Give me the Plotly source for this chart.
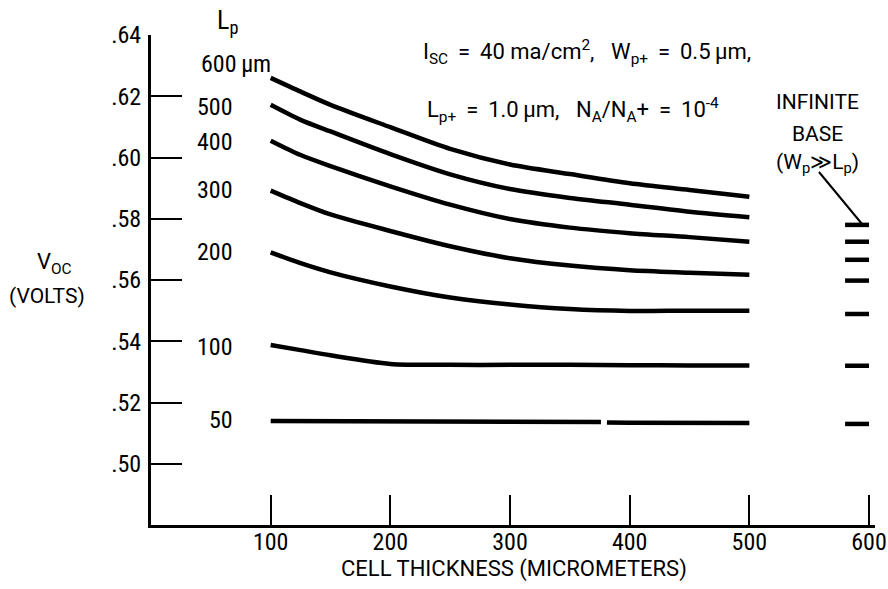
import plotly.graph_objects as go

# ---------------- data ----------------
thickness = [100, 125, 150, 200, 250, 300, 350, 400, 450, 500]
lp_labels = ["600\u2009\u00b5m", "500", "400", "300", "200", "100", "50"]
voc_600 = [0.6260, 0.6215, 0.6172, 0.6099, 0.6028, 0.5977, 0.5946, 0.5916, 0.5894, 0.5872]
voc_500 = [0.6172, 0.6123, 0.6085, 0.6011, 0.5945, 0.5897, 0.5868, 0.5846, 0.5823, 0.5805]
voc_400 = [0.6055, 0.6008, 0.5972, 0.5906, 0.5846, 0.5799, 0.5771, 0.5753, 0.5740, 0.5725]
voc_300 = [0.5892, 0.5851, 0.5814, 0.5760, 0.5710, 0.5671, 0.5647, 0.5632, 0.5624, 0.5617]
voc_200 = [0.5690, 0.5655, 0.5625, 0.5579, 0.5543, 0.5520, 0.5505, 0.5499, 0.5500, 0.5500]
voc_100 = [0.5388, 0.5371, 0.5354, 0.5326, 0.5323, 0.5323, 0.5323, 0.5322, 0.5321, 0.5321]
thickness_50 = [100, 200, 300, 376, 378, 381, 400, 500]
voc_50 = [0.5140, 0.5139, 0.5137, 0.5136, None, 0.5135, 0.5134, 0.5133]
# infinite-base values (Wp >> Lp), same Lp order 600..50
infinite_base = [0.5780, 0.5725, 0.5666, 0.5598, 0.5489, 0.5320, 0.5130]
infinite_x = [580, 600]

x_ticks = [100, 200, 300, 400, 500, 600]
y_ticks = [0.50, 0.52, 0.54, 0.56, 0.58, 0.60, 0.62, 0.64]
y_ticktext = [".50", ".52", ".54", ".56", ".58", ".60", ".62", ".64"]

NARROW = "Liberation Sans Narrow, Roboto Condensed, DejaVu Sans Condensed, Arial Narrow, sans-serif"
WIDE = "Roboto, Liberation Sans, sans-serif"
LW = 4.5

# layout geometry (pixels)
W, H = 888, 589
ML, MR, MT, MB = 151, 13, 35, 64
PW, PH = W - ML - MR, H - MT - MB


def px(xpix):
    return (xpix - ML) / PW


def py(ypix):
    return (H - MB - ypix) / PH


fig = go.Figure()

curves = [voc_600, voc_500, voc_400, voc_300, voc_200, voc_100]
for ys in curves:
    fig.add_trace(go.Scatter(x=thickness, y=ys, mode="lines",
                             line=dict(color="black", width=LW, shape="spline", smoothing=0.8),
                             showlegend=False, hoverinfo="skip"))
fig.add_trace(go.Scatter(x=thickness_50, y=voc_50, mode="lines", connectgaps=False,
                         line=dict(color="black", width=LW),
                         showlegend=False, hoverinfo="skip"))

# infinite-base dashes
dx, dy = [], []
for v in infinite_base:
    dx += infinite_x + [None]
    dy += [v, v, None]
fig.add_trace(go.Scatter(x=dx, y=dy, mode="lines", line=dict(color="black", width=LW),
                         showlegend=False, hoverinfo="skip"))

# leader line from "(Wp >> Lp)" to the top dash
fig.add_shape(type="line", xref="paper", yref="paper",
              x0=px(819), y0=py(172), x1=px(862), y1=py(224),
              line=dict(color="black", width=2))

ann = []
lab_font = dict(family=NARROW, size=24, color="black")


def note(xp, yp, text, xanchor="center", font=lab_font):
    ann.append(dict(x=px(xp), y=py(yp), xref="paper", yref="paper", text=text,
                    showarrow=False, xanchor=xanchor, yanchor="middle", font=font))


# Lp heading and curve labels
note(215, 22, "L<sub>p</sub>", "left", dict(family=NARROW, size=26, color="black"))
label_y = [64, 107, 142, 190, 252, 347, 420]
for i, (lab, yy) in enumerate(zip(lp_labels, label_y)):
    if i == 0:
        note(199, yy, lab, "left")
    else:
        note(235, yy, lab, "right")

# parameter text
pfont = dict(family=WIDE, size=22, color="black")
note(421, 52, "I<sub>SC</sub> \u2009=\u2009 40 ma/cm<sup>2</sup>,\u2002 W<sub>p+</sub> \u2009=\u2009 0.5\u2009\u00b5m,", "left", pfont)
note(425, 110, "L<sub>p+</sub> \u2009=\u2009 1.0\u2009\u00b5m,\u2002 N<sub>A</sub>/N<sub>A</sub>+ \u2009=\u2009 10<sup>-4</sup>", "left", pfont)

# infinite base text
sfont = dict(family=WIDE, size=21, color="black")
for t, yy in [("INFINITE", 102), ("BASE", 134), ("(W<sub>p</sub>\u226bL<sub>p</sub>)", 163)]:
    note(817, yy, t, "center", sfont)

# y-axis title
note(54, 263, "V<sub>OC</sub>", "center", dict(family=WIDE, size=22, color="black"))
note(47, 296, "(VOLTS)", "center", dict(family=WIDE, size=21, color="black"))

# x-axis title
note(514, 569, "CELL THICKNESS (MICROMETERS)", "center", dict(family=WIDE, size=22, color="black"))

tfont = dict(family=NARROW, size=24, color="black")
fig.update_layout(
    width=W, height=H,
    margin=dict(l=ML, r=MR, t=MT, b=MB, pad=0, autoexpand=False),
    paper_bgcolor="white", plot_bgcolor="white",
    font=dict(family=NARROW, size=22, color="black"),
    showlegend=False,
    annotations=ann,
    xaxis=dict(range=[0, 605], tickvals=x_ticks, ticks="inside", ticklen=30, tickwidth=2,
               tickcolor="black", showline=True, linecolor="black", linewidth=3,
               showgrid=False, zeroline=False, tickfont=tfont, ticklabeloverflow="allow",
               ticklabelstandoff=-7, automargin=False),
    yaxis=dict(range=[0.48, 0.64], tickvals=y_ticks, ticktext=y_ticktext, ticks="inside",
               ticklen=31, tickwidth=2, tickcolor="black", showline=True, linecolor="black",
               linewidth=3, showgrid=False, zeroline=False, tickfont=tfont,
               ticklabelstandoff=2, automargin=False),
)

fig.write_html("out.html", config={"displayModeBar": False},
               post_script="document.body.style.margin='0';")
